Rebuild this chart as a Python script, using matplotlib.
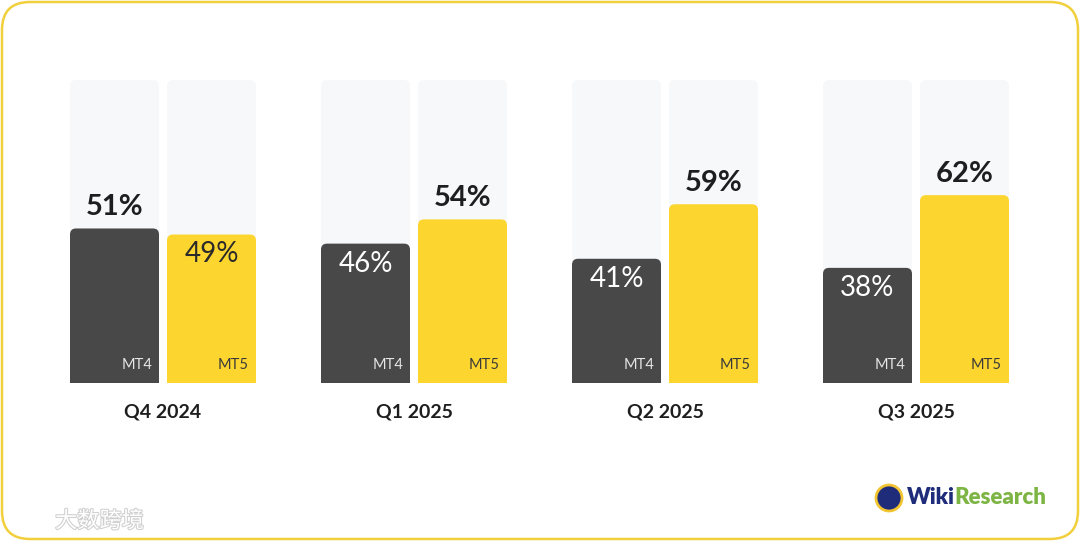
import numpy as np
import matplotlib
matplotlib.use("Agg")
import matplotlib.pyplot as plt
import matplotlib.patheffects as pe
from matplotlib.patches import FancyBboxPatch, Circle

# data
quarters = ["Q4 2024", "Q1 2025", "Q2 2025", "Q3 2025"]
mt4 = [51, 46, 41, 38]
mt5 = [49, 54, 59, 62]
platforms = ["MT4", "MT5"]

dark = "#484848"
yellow = "#FDD52F"
pale = "#F6F8FA"

plt.rcParams['font.family'] = ['Lato', 'DejaVu Sans']

fig = plt.figure(figsize=(10.8, 5.42), dpi=100)
fig.patch.set_facecolor("white")

# rounded yellow frame
bg = fig.add_axes([0, 0, 1, 1])
bg.set_xlim(0, 1080)
bg.set_ylim(542, 0)
bg.axis("off")
bg.add_patch(FancyBboxPatch((2, 2), 1076, 537, boxstyle="round,pad=0,rounding_size=28",
                            fc="white", ec="#F2CF3C", lw=1.8))

ax = fig.add_axes([0, (542 - 383) / 542, 1, (383 - 80) / 542])
ax.set_xlim(-163 / 251, (1080 - 163) / 251)
ax.set_ylim(0, 100)
ax.axis("off")

w = 89 / 251
off = 48.5 / 251
asp = 251 / (303 / 100)  # px per x-unit / px per y-unit
r = 6 / 251


def rbar(xc, h, color, z):
    p = FancyBboxPatch((xc - w / 2, -10), w, h + 10,
                       boxstyle="round,pad=0,rounding_size=%f" % r,
                       mutation_aspect=asp, fc=color, ec="none", zorder=z)
    ax.add_patch(p)


x = np.arange(len(quarters))
for i in x:
    for j, (vals, col) in enumerate([(mt4, dark), (mt5, yellow)]):
        xc = i + (-off if j == 0 else off)
        rbar(xc, 100, pale, 1)
        v = vals[i]
        rbar(xc, v, col, 2)
        other = (mt5 if j == 0 else mt4)[i]
        if v > other:
            ax.annotate(f"{v}%", (xc, v), xytext=(0, 6), textcoords="offset points",
                        ha="center", va="bottom", fontsize=21, fontweight="bold",
                        color="#1E1E1E", zorder=5)
        else:
            ax.annotate(f"{v}%", (xc, v), xytext=(0, -5), textcoords="offset points",
                        ha="center", va="top", fontsize=20, fontweight="normal",
                        color="white" if j == 0 else "#2A2A2A", zorder=5)
        ax.annotate(platforms[j], (xc + w / 2, 0), xytext=(-5, 8), textcoords="offset points",
                    ha="right", va="bottom", fontsize=10.5,
                    color="#E6E6E6" if j == 0 else "#3A3A3A", zorder=5)
    ax.annotate(quarters[i], (i, 0), xytext=(0, -15), textcoords="offset points",
                ha="center", va="top", fontsize=14, fontweight="bold",
                color="#1E1E1E", annotation_clip=False)

# logo bottom right
bg.add_patch(Circle((889, 498), 13, fc="#1F2C7A", ec="#F2C431", lw=2))
t = bg.text(907, 498, "Wiki", fontsize=16, fontweight="heavy", color="#1F2C7A",
            ha="left", va="center")
fig.canvas.draw()
bb = t.get_window_extent()
bg.text(907 + bb.width, 498, "Research", fontsize=16, fontweight="heavy", color="#7DB544",
        ha="left", va="center")

# watermark bottom left
bg.text(55, 521, "\u5927\u6570\u8de8\u5883", fontsize=16, color="white",
        family=["Noto Sans CJK SC", "DejaVu Sans"], ha="left", va="center",
        path_effects=[pe.withStroke(linewidth=1.5, foreground="#CFCFCF")])

fig.savefig("out.png", dpi=100, facecolor="white")
